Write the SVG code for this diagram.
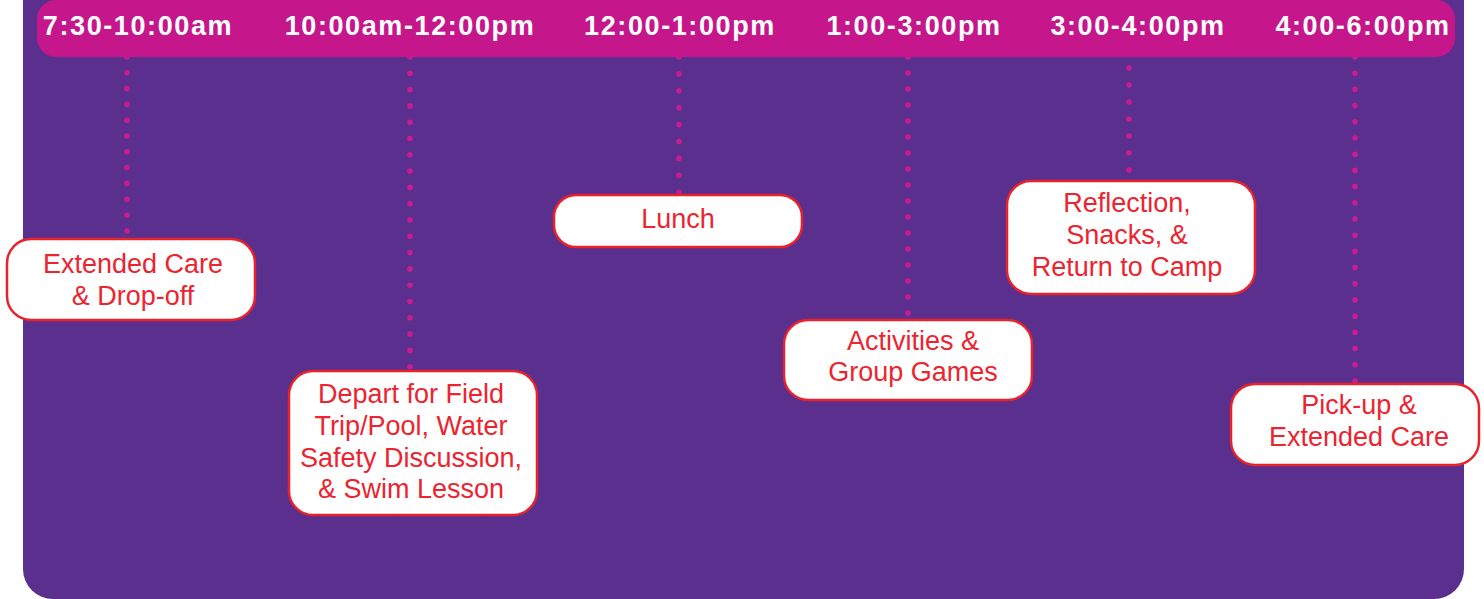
<svg xmlns="http://www.w3.org/2000/svg" width="1484" height="599" viewBox="0 0 1484 599">
<style>
.bg{fill:#5b2f8e}
.bar{fill:#c5178b}
.hdr{font-family:"Liberation Sans",Arial,sans-serif;font-weight:bold;font-size:27px;fill:#ffffff;text-anchor:middle;letter-spacing:1.6px}
.box{fill:#ffffff;stroke:#e8222b;stroke-width:2.5}
.lbl{font-family:"Liberation Sans",Arial,sans-serif;font-size:27px;fill:#ec2430;text-anchor:middle}
.dot{stroke:#c91c8f;stroke-width:5.6;stroke-linecap:round;fill:none}
</style>
<rect class="bg" x="23" y="-40" width="1441" height="639" rx="30"/>
<g id="connectors">
<line class="dot" x1="127" y1="57" x2="127" y2="232" stroke-dasharray="0 15.8"/>
<line class="dot" x1="410" y1="57" x2="410" y2="368" stroke-dasharray="0 16.3"/>
<line class="dot" x1="679" y1="57" x2="679" y2="194.5" stroke-dasharray="0 16.9"/>
<line class="dot" x1="908" y1="57" x2="908" y2="314.5" stroke-dasharray="0 16"/>
<line class="dot" x1="1129" y1="68" x2="1129" y2="172" stroke-dasharray="0 17"/>
<line class="dot" x1="1355" y1="57" x2="1355" y2="382.5" stroke-dasharray="0 16.2"/>
</g>
<g id="header">
<rect class="bar" x="37" y="0" width="1418" height="57" rx="19"/>
<text class="hdr" x="138" y="35">7:30-10:00am</text>
<text class="hdr" x="410" y="35">10:00am-12:00pm</text>
<text class="hdr" x="680" y="35">12:00-1:00pm</text>
<text class="hdr" x="914" y="35">1:00-3:00pm</text>
<text class="hdr" x="1138" y="35">3:00-4:00pm</text>
<text class="hdr" x="1363" y="35">4:00-6:00pm</text>
</g>
<g id="node-extended-care">
<rect class="box" x="7" y="239" width="248" height="81" rx="24"/>
<text class="lbl" x="133" y="273">Extended Care</text>
<text class="lbl" x="133" y="305">&amp; Drop-off</text>
</g>
<g id="node-depart">
<rect class="box" x="289" y="371" width="248" height="144" rx="24"/>
<text class="lbl" x="411" y="403">Depart for Field</text>
<text class="lbl" x="411" y="435">Trip/Pool, Water</text>
<text class="lbl" x="411" y="467">Safety Discussion,</text>
<text class="lbl" x="411" y="498">&amp; Swim Lesson</text>
</g>
<g id="node-lunch">
<rect class="box" x="554" y="195" width="248" height="52" rx="22"/>
<text class="lbl" x="678" y="228">Lunch</text>
</g>
<g id="node-activities">
<rect class="box" x="784" y="320" width="248" height="80" rx="24"/>
<text class="lbl" x="913" y="350">Activities &amp;</text>
<text class="lbl" x="913" y="381">Group Games</text>
</g>
<g id="node-reflection">
<rect class="box" x="1007" y="181" width="248" height="113" rx="24"/>
<text class="lbl" x="1127" y="212">Reflection,</text>
<text class="lbl" x="1127" y="244">Snacks, &amp;</text>
<text class="lbl" x="1127" y="276">Return to Camp</text>
</g>
<g id="node-pickup">
<rect class="box" x="1231" y="384" width="248" height="81" rx="24"/>
<text class="lbl" x="1359" y="414">Pick-up &amp;</text>
<text class="lbl" x="1359" y="446">Extended Care</text>
</g>
</svg>
